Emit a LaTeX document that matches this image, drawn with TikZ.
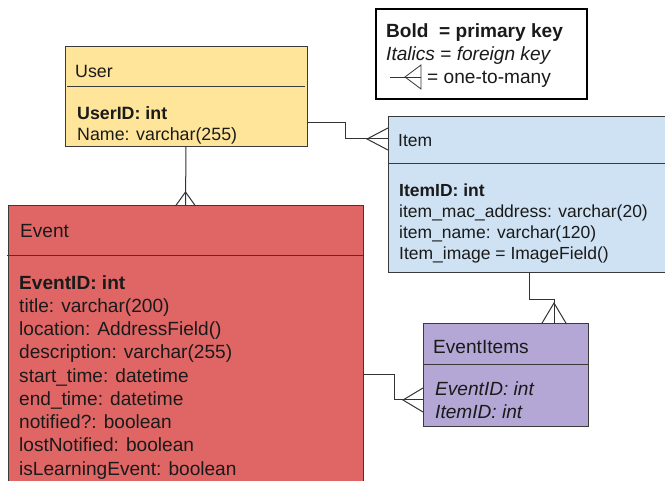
\documentclass[tikz,border=0pt]{standalone}
\usepackage{fontspec}
\setmainfont{Liberation Sans}
\usetikzlibrary{calc}
\definecolor{userfill}{HTML}{FFE599}
\definecolor{itemfill}{HTML}{CFE2F3}
\definecolor{eventfill}{HTML}{E06666}
\definecolor{eifill}{HTML}{B4A7D6}
\definecolor{borderc}{HTML}{3A3A3A}
\definecolor{linec}{HTML}{333333}
\definecolor{textc}{HTML}{1A1A1A}
\newcommand\fsUser{\fontsize{17.8}{21}\selectfont}
\newcommand\fsItem{\fontsize{17.5}{21}\selectfont}
\newcommand\fsEvent{\fontsize{19.1}{23}\selectfont}
\begin{document}
\begin{tikzpicture}[x=1pt,y=-1pt,
  conn/.style={draw=linec, line width=1pt},
  tbl/.style={draw=borderc, line width=1pt, anchor=north west, inner sep=0pt, outer sep=0pt},
  divider/.style={draw=borderc, line width=1pt},
  row/.style={anchor=west, inner sep=0pt, text height=0.72em, text depth=0pt, text=textc, yshift=-3.5pt},
]
\useasboundingbox (0,0) rectangle (665,481);
\fill[white] (0,0) rectangle (665,481);

% ---- tables ----
\node[tbl, fill=userfill, minimum width=242pt, minimum height=100pt] (user) at (65,47) {};
\node[tbl, fill=eventfill, minimum width=355pt, minimum height=290pt] (event) at (8,206) {};
\node[tbl, fill=itemfill, minimum width=290pt, minimum height=156pt] (item) at (388,117) {};
\node[tbl, fill=eifill, minimum width=165pt, minimum height=103pt] (ei) at (423,324) {};

\draw[divider] ($(user.north west)+(2,40)$) -- ($(user.north east)+(-2,40)$);
\draw[divider] ($(event.north west)+(-1,50)$) -- ($(event.north east)+(1,50)$);
\draw[divider] ($(item.north west)+(0,47)$) -- ($(item.north east)+(0,47)$);
\draw[divider] ($(ei.north west)+(0,41)$) -- ($(ei.north east)+(0,41)$);

% ---- User ----
\node[row, font=\fsUser] (utitle) at (75,70) {User};
\node[row, font=\fsUser] (u1) at (77,112) {\textbf{UserID: int}};
\node[row, font=\fsUser] (u2) at (77,133) {Name: varchar(255)};

% ---- Item ----
\node[row, font=\fsItem] (ititle) at (398,139) {Item};
\node[row, font=\fsItem] (i1) at (399,189) {\textbf{ItemID: int}};
\node[row, font=\fsItem] (i2) at (399,210) {item\_mac\_address: varchar(20)};
\node[row, font=\fsItem] (i3) at (399,231) {item\_name: varchar(120)};
\node[row, font=\fsItem] (i4) at (399,252) {Item\_image = ImageField()};

% ---- Event ----
\node[row, font=\fsEvent] (etitle) at (20,230) {Event};
\node[row, font=\fsEvent] (e1) at (19,282) {\textbf{EventID: int}};
\node[row, font=\fsEvent] (e2) at (19,305.25) {title: varchar(200)};
\node[row, font=\fsEvent] (e3) at (19,328.5) {location: AddressField()};
\node[row, font=\fsEvent] (e4) at (19,351.75) {description: varchar(255)};
\node[row, font=\fsEvent] (e5) at (19,375) {start\_time: datetime};
\node[row, font=\fsEvent] (e6) at (19,398.25) {end\_time: datetime};
\node[row, font=\fsEvent] (e7) at (19,421.5) {notified?: boolean};
\node[row, font=\fsEvent] (e8) at (19,444.75) {lostNotified: boolean};
\node[row, font=\fsEvent] (e9) at (19,468) {isLearningEvent: boolean};

% ---- EventItems ----
\node[row, font=\fsEvent] (eititle) at (433,346) {EventItems};
\node[row, font=\fsEvent] (ei1) at (435,388) {\textit{EventID: int}};
\node[row, font=\fsEvent] (ei2) at (435,411) {\textit{ItemID: int}};

% ---- legend ----
\node[draw=black, line width=2.2pt, anchor=north west, inner sep=0pt, minimum width=211pt, minimum height=90pt] (legend) at (375,8) {};
\node[row, font=\fsEvent] (l1) at (386,30) {\textbf{Bold\ \ = primary key}};
\node[row, font=\fsEvent] (l2) at (386,53) {\textit{Italics} = \textit{foreign key}};
\node[row, font=\fsEvent] (l3) at (427,76) {= one-to-many};
\coordinate (ls) at (390,77);
\coordinate (le) at (421,77);
\draw[conn, line width=0.8pt] (ls) -- (le);
\draw[conn, line width=0.8pt] ($(le)+(0,-12)$) -- ($(le)+(-16,0)$) -- ($(le)+(0,12)$) -- cycle;

% ---- connectors ----
% User -> Event
\draw[conn] (user.south) -- (event.north);
\draw[conn] ($(event.north)+(-10,0)$) -- ($(event.north)+(0,-14)$) -- ($(event.north)+(10,0)$);

% User -> Item
\coordinate (ua) at ($(user.north east)+(0,76)$);
\coordinate (ib) at ($(item.north west)+(0,22)$);
\draw[conn] (ua) -- ++(38,0) |- (ib);
\draw[conn] ($(ib)+(0,-11)$) -- ($(ib)+(-21,0)$) -- ($(ib)+(0,11)$);

% Item -> EventItems
\coordinate (ic) at ($(item.south west)+(141,0)$);
\coordinate (ed) at ($(ei.north west)+(131,0)$);
\draw[conn] (ic) -- ++(0,27) -| (ed);
\draw[conn] ($(ed)+(-12.5,0)$) -- ($(ed)+(0,-21)$) -- ($(ed)+(12.5,0)$);

% Event -> EventItems
\coordinate (ee) at ($(event.north east)+(0,169)$);
\coordinate (ef) at ($(ei.north west)+(0,76)$);
\draw[conn] (ee) -- ++(31,0) |- (ef);
\draw[conn] ($(ef)+(0,-12)$) -- ($(ef)+(-20,0)$) -- ($(ef)+(0,12)$);
\end{tikzpicture}
\end{document}
